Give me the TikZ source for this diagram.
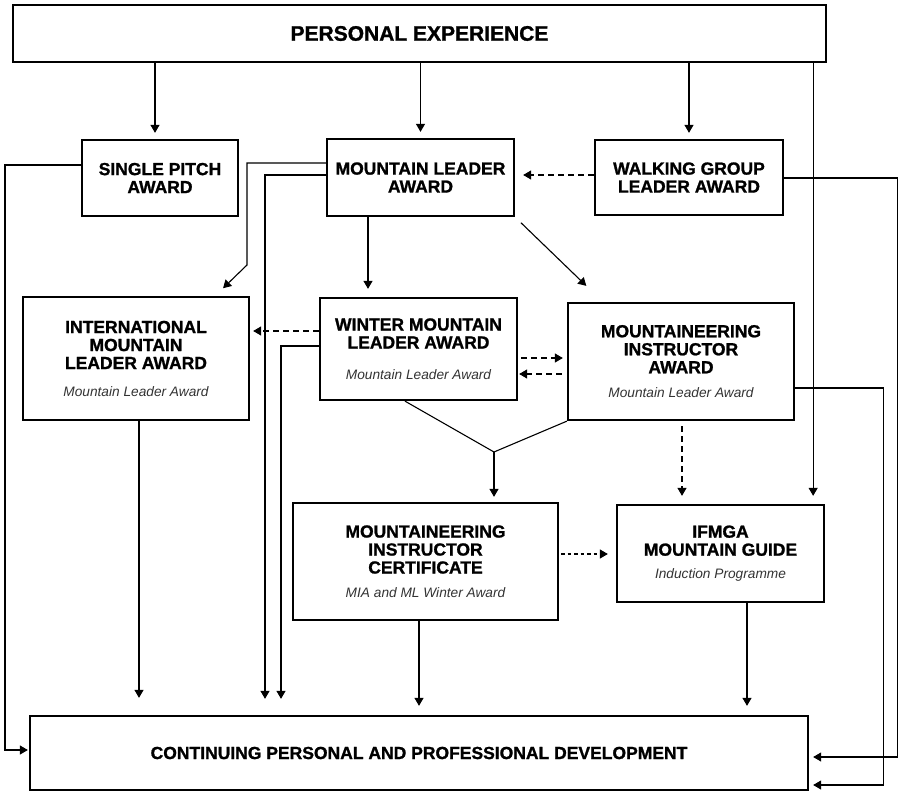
\documentclass[tikz,border=0pt]{standalone}
\usepackage{fontspec}
\setmainfont{Liberation Sans}[BoldFeatures={FakeBold=1.2}]
\usetikzlibrary{positioning}
\usetikzlibrary{arrows.meta}
\tikzset{
        box/.style={align=center,inner sep=0pt,rectangle,draw=black,line width=2.3pt},
        % Award boxes
        node_award/.style={box, font=\fontsize{17.5}{18}\selectfont\bfseries},
        % Full width bars
        node_bar/.style={box, font=\fontsize{17.5}{18}\selectfont\bfseries},
        % Connectors
        line_plain/.style={line width=1.1pt},
        line_arrow/.style={line_plain, -{Triangle[length=8pt,width=9pt]}, shorten >=6pt},
        line_dashed/.style={line_arrow, dash pattern=on 6pt off 4pt},
        line_dotted/.style={line_arrow, dash pattern=on 3.5pt off 3pt}
}
% entry requirement under an award title
\newcommand{\prereq}[2][9pt]{\\[#1]{\mdseries\itshape\color{black!80}\fontsize{13.7}{18}\selectfont #2}}

\begin{document}
\begin{tikzpicture}[
            x=1pt, y=-1pt
        ]
        \useasboundingbox (0,0) rectangle (899,792);

        % top and bottom bars
        \node[node_bar, minimum width=813pt, minimum height=57pt, font=\fontsize{21}{23}\selectfont\bfseries] (pe) at (419.5,33.5) {PERSONAL EXPERIENCE};
        \node[node_bar, minimum width=778pt, minimum height=74pt] (cppd) at (419,753) {CONTINUING PERSONAL AND PROFESSIONAL DEVELOPMENT};

        % first row
        \node[node_award, minimum width=156pt, minimum height=76pt] (spa) at (160,178) {SINGLE PITCH\\AWARD};
        \node[node_award, minimum width=187pt, minimum height=77pt] (mla) at (420.5,177.5) {MOUNTAIN LEADER\\AWARD};
        \node[node_award, minimum width=188pt, minimum height=75pt] (wgl) at (689,177.5) {WALKING GROUP\\LEADER AWARD};

        % second row
        \node[node_award, minimum width=226pt, minimum height=123pt] (iml) at (136,358.5) {INTERNATIONAL\\MOUNTAIN\\LEADER AWARD\prereq{Mountain Leader Award}};
        \node[node_award, minimum width=197pt, minimum height=102pt] (wml) at (418.5,349) {WINTER MOUNTAIN\\LEADER AWARD\prereq[13pt]{Mountain Leader Award}};
        \node[node_award, minimum width=226pt, minimum height=117pt] (mia) at (681,361.5) {MOUNTAINEERING\\INSTRUCTOR\\AWARD\prereq[6.5pt]{Mountain Leader Award}};

        % third row
        \node[node_award, minimum width=265pt, minimum height=117pt] (mic) at (425.5,561.5) {MOUNTAINEERING\\INSTRUCTOR\\CERTIFICATE\prereq[6pt]{MIA and ML Winter Award}};
        \node[node_award, minimum width=207pt, minimum height=97pt] (guide) at (720.5,553.5) {IFMGA\\MOUNTAIN GUIDE\prereq[5pt]{Induction Programme}};

        % helper points
        \coordinate (spa_in) at ([xshift=-5pt]spa.north);
        \coordinate (guide_in) at ([xshift=-12pt]guide.north east);
        \coordinate (left_rail) at (5,750);
        \coordinate (ml_bend) at (247,265);
        \coordinate (mla_out) at ([xshift=-52.5pt]mla.south);
        \coordinate (iml_out) at ([xshift=3pt]iml.south);
        \coordinate (wml_r1) at ([yshift=-9pt]wml.east);
        \coordinate (wml_r2) at ([yshift=-25pt]wml.east);
        \coordinate (wml_l) at ([yshift=18pt]wml.west);
        \coordinate (mia_out) at ([xshift=1pt]mia.south);
        \coordinate (mic_r) at ([yshift=7.5pt]mic.east);
        \coordinate (mic_out) at ([xshift=-6.5pt]mic.south);
        \coordinate (guide_out) at ([xshift=26.5pt]guide.south);
        \coordinate (fork) at (494,452);

        % from personal experience
        \draw[line_arrow] (spa_in |- pe.south) -- (spa_in);
        \draw[line_arrow] (pe.south -| mla.north) -- (mla.north);
        \draw[line_arrow] (pe.south -| wgl.north) -- (wgl.north);
        \draw[line_arrow, shorten >=8pt] (guide_in |- pe.south) -- (guide_in);

        % first row onwards
        \draw[line_arrow, shorten >=1pt] ([yshift=13pt]spa.west) -| (left_rail) -- (left_rail -| cppd.west);
        \draw[line_arrow, shorten >=11pt] ([yshift=14.5pt]mla.west) -| (ml_bend) -- ([xshift=-35pt]iml.north east);
        \draw[line_arrow, shorten >=16pt] ([yshift=2.5pt]mla.west) -| ([xshift=-154pt]cppd.north);
        \draw[line_arrow, shorten >=8pt] (mla_out) -- (mla_out |- wml.north);
        \draw[line_arrow, shorten <=8pt, shorten >=23pt] (mla.south east) -- ([xshift=36pt]mia.north west);
        \draw[line_dashed, shorten >=8pt] ([yshift=2.5pt]wgl.west) -- ([yshift=2.5pt]mla.east);
        \draw[line_arrow, shorten >=4pt] ([yshift=-0.5pt]wgl.east) -| ([xshift=88pt,yshift=-4pt]cppd.east) -- ([yshift=-4pt]cppd.east);

        % second row onwards
        \draw[line_arrow, shorten >=17pt] (iml_out) -- (iml_out |- cppd.north);
        \draw[line_dashed, shorten >=3pt] (wml_l) -- (wml_l -| iml.east);
        \draw[line_arrow, shorten >=16pt] ([yshift=3pt]wml.west) -| ([xshift=-138pt]cppd.north);
        \draw[line_dashed, shorten <=3pt, shorten >=4pt] (wml_r1) -- (wml_r1 -| mia.west);
        \draw[line_dashed, shorten <=5pt, shorten >=1pt] (wml_r2 -| mia.west) -- (wml_r2);
        \draw[line_plain] ([xshift=-13.5pt]wml.south) -- (fork) -- (mia.south west);
        \draw[line_arrow, shorten >=5pt] (fork) -- (fork |- mic.north);
        \draw[line_dashed, shorten <=5pt, shorten >=8pt] (mia_out) -- (mia_out |- guide.north);
        \draw[line_arrow, shorten >=4pt] ([yshift=-26.5pt]mia.east) -| ([xshift=74pt,yshift=-32pt]cppd.east) -- ([yshift=-32pt]cppd.east);

        % third row onwards
        \draw[line_dotted, shorten <=2pt, shorten >=8pt] (mic_r) -- (mic_r -| guide.west);
        \draw[line_arrow, shorten >=9pt] (mic_out) -- (mic_out |- cppd.north);
        \draw[line_arrow, shorten >=9pt] (guide_out) -- (guide_out |- cppd.north);
\end{tikzpicture}
\end{document}
